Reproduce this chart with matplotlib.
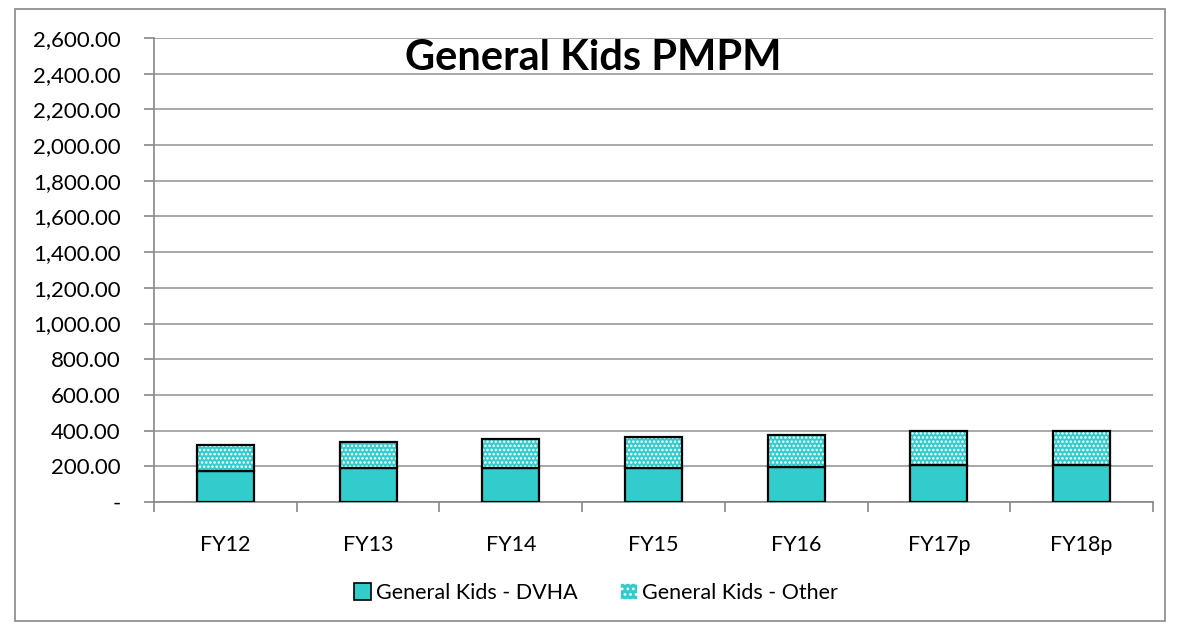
import numpy as np
import matplotlib.pyplot as plt
from matplotlib.patches import Patch, Rectangle
from matplotlib.ticker import FuncFormatter

plt.rcParams['font.family'] = ['Lato', 'DejaVu Sans']

years = ['FY12', 'FY13', 'FY14', 'FY15', 'FY16', 'FY17p', 'FY18p']
dvha = [175, 193, 192, 193, 196, 208, 208]
other = [144, 145, 159, 171, 179, 188, 191]

cyan = '#33CCCC'

fig = plt.figure(figsize=(11.8, 6.3), dpi=100)
# chart area border
fig.add_artist(Rectangle((15 / 1180, 9 / 630), 1150 / 1180, 612 / 630,
                         transform=fig.transFigure, fill=False,
                         edgecolor='#888888', linewidth=1.2))
ax = fig.add_axes([154 / 1180, 1 - 502 / 630, (1153 - 154) / 1180, (502 - 38) / 630])

x = np.arange(len(years))
w = 0.4
ax.bar(x, dvha, w, color=cyan, edgecolor='black', linewidth=1.6, zorder=3)
# hatched top segment: white dots over cyan, then black outline
plt.rcParams['hatch.linewidth'] = 1.2
ax.bar(x, other, w, bottom=dvha, color=cyan, edgecolor='white', hatch='....',
       linewidth=0, zorder=3)
ax.bar(x, other, w, bottom=dvha, fill=False, edgecolor='black', linewidth=1.6, zorder=4)

ax.set_xlim(-0.5, len(years) - 0.5)
ax.set_ylim(0, 2600)
ax.set_yticks(np.arange(0, 2601, 200))
ax.yaxis.set_major_formatter(FuncFormatter(lambda v, p: '-' if v == 0 else f'{v:,.2f}'))
ax.set_xticks(x)
ax.set_xticklabels(years)
ax.set_xticks(np.arange(-0.5, len(years), 1), minor=True)
ax.tick_params(axis='x', which='major', length=0, labelsize=15.5, pad=24)
ax.tick_params(axis='x', which='minor', length=7, color='#888888', width=1.2)
ax.tick_params(axis='y', length=7, color='#888888', width=1.2, labelsize=16, pad=17)

ax.grid(axis='y', color='#999999', linewidth=1.2, zorder=0)
for s in ['top', 'right']:
    ax.spines[s].set_visible(False)
for s in ['left', 'bottom']:
    ax.spines[s].set_color('#888888')
    ax.spines[s].set_linewidth(1.2)

fig.text(593 / 1180, 1 - 58 / 630, 'General Kids PMPM',
         ha='center', va='center', fontsize=30, fontweight='bold')

handles = [Patch(facecolor=cyan, edgecolor='black', linewidth=1.2),
           Patch(facecolor=cyan, edgecolor='white', hatch='...', linewidth=1.2)]
leg = fig.legend(handles, ['General Kids - DVHA', 'General Kids - Other'],
                 loc='center', bbox_to_anchor=(596 / 1180, 1 - 593 / 630), ncol=2,
                 frameon=False, fontsize=15.5, handlelength=0.8, handleheight=0.8,
                 handletextpad=0.2, columnspacing=2.0)

fig.savefig('out.png', dpi=100)
